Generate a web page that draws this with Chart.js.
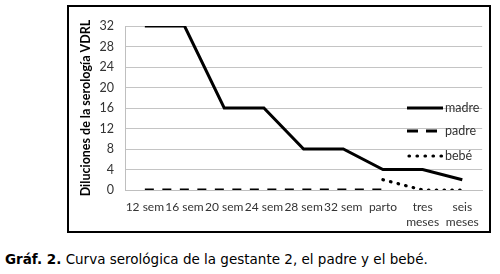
<!DOCTYPE html>
<html><head><meta charset="utf-8">
<script src="https://cdn.jsdelivr.net/npm/chart.js@4"></script>
<style>
html,body{margin:0;padding:0;background:#fff;width:500px;height:274px;overflow:hidden}
#box{position:absolute;left:67px;top:5px;width:420px;height:224px;border:2px solid #000}
#box canvas{display:block}
#cap{position:absolute;left:5px;top:251px;font-family:"DejaVu Sans",Verdana,sans-serif;font-size:13.5px;color:#000;white-space:nowrap}
</style></head><body>
<div id="box"><canvas id="c" width="420" height="224"></canvas></div>
<div id="cap"><b>Gráf. 2.</b> Curva serológica de la gestante 2, el padre y el bebé.</div>
<script>
const categories = ['12 sem','16 sem','20 sem','24 sem','28 sem','32 sem','parto',['tres','meses'],['seis','meses']];
const madre = [32,32,16,16,8,8,4,4,2];
const padre = [0,0,0,0,0,0,0,null,null];
const bebe  = [null,null,null,null,null,null,2,0,0];
const yTicks = [0,4,8,12,16,20,24,28,32];
const yTitle = 'Diluciones de la serología VDRL';

const legendPlugin = {
  id:'customLegend',
  afterDatasetsDraw(chart){
    const ctx = chart.ctx;
    const x0 = 338, x1 = 374, ys = [101,124,149];
    chart.data.datasets.forEach((ds,i)=>{
      ctx.save();
      ctx.strokeStyle = ds.borderColor;
      ctx.lineWidth = ds.borderWidth;
      ctx.lineCap = ds.borderCapStyle || 'butt';
      if (i===1) ctx.setLineDash([11,8]);
      else if (i===2) ctx.setLineDash([0.5,7.5]);
      else ctx.setLineDash([]);
      ctx.beginPath();
      ctx.moveTo(x0 + (i===2?2:0), ys[i]);
      ctx.lineTo(x1, ys[i]);
      ctx.stroke();
      ctx.setLineDash([]);
      ctx.fillStyle = '#333';
      ctx.font = '12.5px Lato';
      ctx.textBaseline = 'middle';
      ctx.textAlign = 'left';
      ctx.fillText(ds.label, x1 + 2, ys[i]);
      ctx.restore();
    });
  }
};

new Chart(document.getElementById('c'), {
  type:'line',
  data:{
    labels: categories,
    datasets:[
      {label:'madre', data:madre, borderColor:'#000', borderWidth:3, pointRadius:0, tension:0, fill:false},
      {label:'padre', data:padre, borderColor:'#000', borderWidth:3, borderDash:[9,8.5], pointRadius:0, tension:0, fill:false},
      {label:'bebé', data:bebe, borderColor:'#000', borderWidth:3.2, borderDash:[0.5,7.3], borderCapStyle:'round', pointRadius:0, tension:0, fill:false}
    ]
  },
  options:{
    responsive:false, animation:false, devicePixelRatio:1,
    layout:{padding:{left:0,right:4,top:19,bottom:0}},
    plugins:{legend:{display:false}, tooltip:{enabled:false}},
    scales:{
      x:{
        offset:true,
        grid:{display:false, drawTicks:false},
        border:{display:true, color:'#bfbfbf', width:1},
        ticks:{padding:10, color:'#333', font:{family:'Lato', size:12, lineHeight:1.25}, maxRotation:0, autoSkip:false},
        afterFit(s){ s.height = 41; }
      },
      y:{
        min:0, max:32,
        afterBuildTicks(s){ s.ticks = yTicks.map(v=>({value:v})); },
        grid:{color:'#c4c4c4', drawTicks:false, lineWidth:1},
        border:{display:true, color:'#bfbfbf', width:1},
        ticks:{padding:11, color:'#333', font:{family:'Lato', size:12.5}},
        title:{display:true, text:yTitle, color:'#000', font:{family:'Lato', size:12.5, weight:'bold'}, padding:{top:9,bottom:0}},
        afterFit(s){ s.width = 56; }
      }
    }
  },
  plugins:[legendPlugin]
});
</script>
</body></html>
